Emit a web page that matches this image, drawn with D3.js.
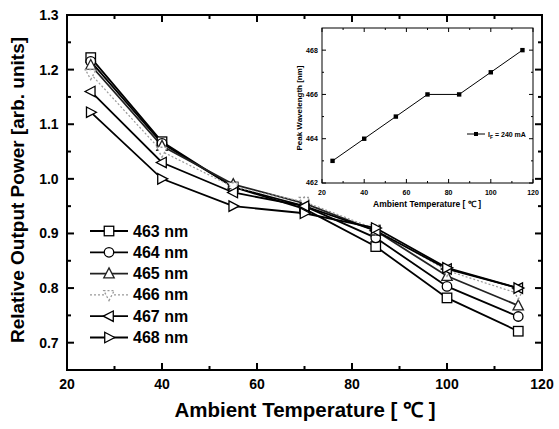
<!DOCTYPE html>
<html>
<head>
<meta charset="utf-8">
<script src="https://cdn.jsdelivr.net/npm/d3@7"></script>
<style>
  body { margin: 0; background: #fff; }
  text { font-family: "Liberation Sans", Arial, sans-serif; font-weight: bold; }
</style>
</head>
<body>
<svg id="chart" width="559" height="429"></svg>
<script>
// temperatures (deg C)
const temps = [25, 40, 55, 70, 85, 100, 115];

// relative output power per wavelength
const p463 = [1.222, 1.068, 0.985, 0.945, 0.876, 0.782, 0.721];
const p464 = [1.215, 1.065, 0.985, 0.950, 0.892, 0.803, 0.748];
const p465 = [1.208, 1.060, 0.990, 0.955, 0.905, 0.822, 0.768];
const p466 = [1.192, 1.050, 0.985, 0.958, 0.908, 0.832, 0.790];
const p467 = [1.160, 1.030, 0.975, 0.950, 0.905, 0.835, 0.800];
const p468 = [1.122, 1.000, 0.950, 0.937, 0.910, 0.837, 0.800];

const seriesNames = ["463 nm", "464 nm", "465 nm", "466 nm", "467 nm", "468 nm"];
const seriesVals = [p463, p464, p465, p466, p467, p468];

// inset: peak wavelength at IF = 240 mA
const peakWl = [463, 464, 465, 466, 466, 467, 468];

const xTicks = [20, 40, 60, 80, 100, 120];
const yTicks = [0.7, 0.8, 0.9, 1.0, 1.1, 1.2, 1.3];
const insetYTicks = [462, 464, 466, 468];

const svg = d3.select("#chart");

const x = d3.scaleLinear().domain([20, 120]).range([67, 542]);
const y = d3.scaleLinear().domain([0.65, 1.3]).range([370, 15]);

// markers
function marker(g, kind, size) {
  const s = size;
  if (kind === "square") {
    g.append("rect").attr("x", -s / 2).attr("y", -s / 2).attr("width", s).attr("height", s);
  } else if (kind === "circle") {
    g.append("circle").attr("r", s / 2);
  } else if (kind === "up") {
    g.append("path").attr("d", `M0,${-s * 0.6}L${s * 0.55},${s * 0.45}L${-s * 0.55},${s * 0.45}Z`);
  } else if (kind === "down") {
    g.append("path").attr("d", `M0,${s * 0.6}L${s * 0.55},${-s * 0.45}L${-s * 0.55},${-s * 0.45}Z`);
  } else if (kind === "left") {
    g.append("path").attr("d", `M${-s * 0.6},0L${s * 0.45},${-s * 0.55}L${s * 0.45},${s * 0.55}Z`);
  } else if (kind === "right") {
    g.append("path").attr("d", `M${s * 0.6},0L${-s * 0.45},${-s * 0.55}L${-s * 0.45},${s * 0.55}Z`);
  }
}
const kinds = ["square", "circle", "up", "down", "left", "right"];
const strokes = ["#000", "#000", "#222", "#999", "#000", "#000"];
const dashes = [null, null, null, "2,2", null, null];

// axes (inward ticks on all four sides)
function drawAxes(g, xs, ys, xMajor, xMinor, yMajor, yMinor, majLen, minLen, fontSize, yFmt, width) {
  const [x0, x1] = xs.range();
  const [y0, y1] = ys.range();
  g.append("rect").attr("x", x0).attr("y", y1).attr("width", x1 - x0).attr("height", y0 - y1)
    .attr("fill", "#fff").attr("stroke", "#000").attr("stroke-width", width);
  const tk = g.append("g").attr("stroke", "#000").attr("stroke-width", width);
  xMajor.concat(xMinor).forEach((v, i) => {
    const L = i < xMajor.length ? majLen : minLen;
    tk.append("line").attr("x1", xs(v)).attr("x2", xs(v)).attr("y1", y0).attr("y2", y0 - L);
    tk.append("line").attr("x1", xs(v)).attr("x2", xs(v)).attr("y1", y1).attr("y2", y1 + L);
  });
  yMajor.concat(yMinor).forEach((v, i) => {
    const L = i < yMajor.length ? majLen : minLen;
    tk.append("line").attr("y1", ys(v)).attr("y2", ys(v)).attr("x1", x0).attr("x2", x0 + L);
    tk.append("line").attr("y1", ys(v)).attr("y2", ys(v)).attr("x1", x1).attr("x2", x1 - L);
  });
  g.selectAll(".xl").data(xMajor).join("text")
    .attr("x", d => xs(d)).attr("y", y0 + fontSize + 5)
    .attr("text-anchor", "middle").attr("font-size", fontSize).text(d => d);
  g.selectAll(".yl").data(yMajor).join("text")
    .attr("x", x0 - fontSize * 0.6).attr("y", d => ys(d) + fontSize * 0.35)
    .attr("text-anchor", "end").attr("font-size", fontSize).text(yFmt);
}

const main = svg.append("g");
drawAxes(main, x, y, xTicks, [30, 50, 70, 90, 110],
  yTicks, [0.75, 0.85, 0.95, 1.05, 1.15, 1.25], 7, 4, 14, d => d3.format(".1f")(d), 2);

// series
const line = d3.line().x((d, i) => x(temps[i])).y(d => y(d));
seriesVals.forEach((vals, k) => {
  main.append("path").datum(vals).attr("d", line).attr("fill", "none")
    .attr("stroke", strokes[k]).attr("stroke-width", k === 3 ? 1.2 : 1.8)
    .attr("stroke-dasharray", dashes[k]);
});
seriesVals.forEach((vals, k) => {
  vals.forEach((v, i) => {
    const g = main.append("g").attr("transform", `translate(${x(temps[i])},${y(v)})`)
      .attr("fill", "#fff").attr("stroke", strokes[k]).attr("stroke-width", 1.3)
      .attr("stroke-dasharray", dashes[k]);
    marker(g, kinds[k], 9.5);
  });
});

// legend
const leg = main.append("g");
seriesNames.forEach((name, k) => {
  const ly = 231 + k * 21.3;
  leg.append("line").attr("x1", 90).attr("x2", 128).attr("y1", ly).attr("y2", ly)
    .attr("stroke", strokes[k]).attr("stroke-width", k === 3 ? 1.2 : 1.8)
    .attr("stroke-dasharray", dashes[k]);
  const g = leg.append("g").attr("transform", `translate(109,${ly})`)
    .attr("fill", "#fff").attr("stroke", strokes[k]).attr("stroke-width", 1.3)
    .attr("stroke-dasharray", dashes[k]);
  marker(g, kinds[k], 9.5);
  leg.append("text").attr("x", 133).attr("y", ly + 5.5).attr("font-size", 16).text(name);
});

// axis titles
main.append("text").attr("x", 305).attr("y", 417).attr("text-anchor", "middle")
  .attr("font-size", 20.5).text("Ambient Temperature [ \u2103 ]");
main.append("text").attr("transform", "translate(24,190) rotate(-90)").attr("text-anchor", "middle")
  .attr("font-size", 19).text("Relative Output Power [arb. units]");

// inset
const xi = d3.scaleLinear().domain([20, 120]).range([322, 533]);
const yi = d3.scaleLinear().domain([462, 469]).range([183, 28]);
const inset = svg.append("g");
drawAxes(inset, xi, yi, xTicks, [30, 50, 70, 90, 110],
  insetYTicks, [463, 465, 467], 4, 2, 7, d => d, 1);

inset.append("path").datum(peakWl)
  .attr("d", d3.line().x((d, i) => xi(temps[i])).y(d => yi(d)))
  .attr("fill", "none").attr("stroke", "#000").attr("stroke-width", 1);
inset.selectAll(".pt").data(peakWl).join("rect")
  .attr("x", (d, i) => xi(temps[i]) - 2.2).attr("y", d => yi(d) - 2.2)
  .attr("width", 4.4).attr("height", 4.4).attr("fill", "#000");

inset.append("line").attr("x1", 467).attr("x2", 485).attr("y1", 134).attr("y2", 134)
  .attr("stroke", "#000").attr("stroke-width", 1);
inset.append("rect").attr("x", 474).attr("y", 132).attr("width", 4).attr("height", 4).attr("fill", "#000");
const lt = inset.append("text").attr("x", 488).attr("y", 136.5).attr("font-size", 7);
lt.append("tspan").text("I");
lt.append("tspan").attr("font-size", 5).attr("dy", 2).text("F");
lt.append("tspan").attr("dy", -2).text(" = 240 mA");

inset.append("text").attr("x", 427).attr("y", 207).attr("text-anchor", "middle")
  .attr("font-size", 8.5).text("Ambient Temperature [ \u2103 ]");
inset.append("text").attr("transform", "translate(302,108) rotate(-90)").attr("text-anchor", "middle")
  .attr("font-size", 8).text("Peak Wavelength [nm]");
</script>
</body>
</html>
